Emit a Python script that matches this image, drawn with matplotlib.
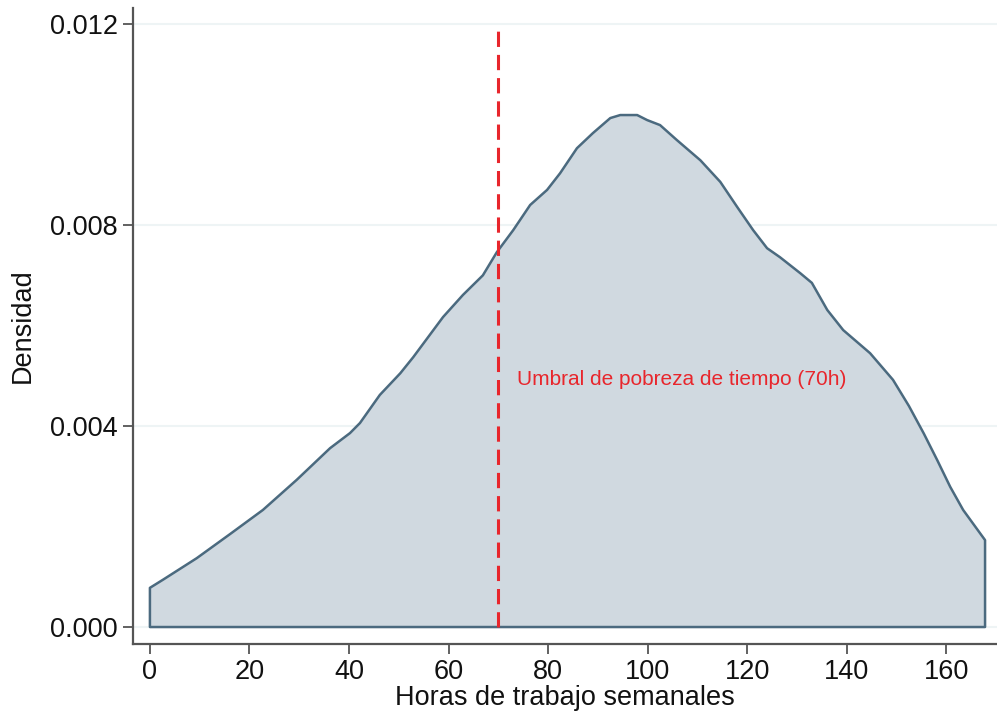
import numpy as np
import matplotlib
matplotlib.use("Agg")
import matplotlib.pyplot as plt

plt.rcParams['font.family'] = ['Liberation Sans', 'DejaVu Sans']

# density estimate
horas = [0, 2.6, 9.4, 16.1, 22.7, 29.5, 36.2, 40.2, 42.2, 46.2, 50.3, 52.9,
         58.9, 62.9, 66.9, 69.7, 73.0, 76.4, 79.8, 82.4, 85.8, 89.0, 92.5,
         94.5, 97.9, 99.9, 102.5, 105.9, 110.6, 114.6, 118.0, 121.2, 124.0,
         126.6, 130.7, 133.0, 136.1, 139.3, 144.7, 149.3, 152.5, 155.5,
         158.2, 160.8, 163.4, 167.8]
densidad = [0.00078, 0.00094, 0.00137, 0.00185, 0.00233, 0.00293, 0.00356,
            0.00386, 0.00406, 0.00462, 0.00505, 0.00537, 0.00617, 0.00661,
            0.00700, 0.00746, 0.00790, 0.00840, 0.00870, 0.00903, 0.00953,
            0.00983, 0.01013, 0.01019, 0.01019, 0.01009, 0.00999, 0.00969,
            0.00929, 0.00886, 0.00836, 0.00790, 0.00754, 0.00736, 0.00704,
            0.00685, 0.00631, 0.00591, 0.00545, 0.00492, 0.00440, 0.00385,
            0.00332, 0.00279, 0.00233, 0.00173]

umbral = 70
etiqueta = "Umbral de pobreza de tiempo (70h)"
xticks = [0, 20, 40, 60, 80, 100, 120, 140, 160]
yticks = [0.000, 0.004, 0.008, 0.012]

fig = plt.figure(figsize=(9.97, 7.17), dpi=100)
ax = fig.add_axes([0.1334, 0.1018, 0.8666, 0.887])

# closed outline: vertical edges down to zero at both ends
xs = [horas[0]] + horas + [horas[-1]]
ys = [0] + densidad + [0]
ax.fill(xs, ys, facecolor='#d0d9e0', edgecolor='#4b6a7f', linewidth=1.8,
        joinstyle='round', zorder=2)

ax.plot([umbral, umbral], [0, 0.012], color='#e8262c', linewidth=2.2,
        dashes=(5, 2.6), zorder=3)
ax.text(73.8, 0.00492, etiqueta, color='#e8262c', fontsize=15,
        va='center', ha='left', zorder=4)

for t in yticks:
    ax.axhline(t, color='#eef4f5', linewidth=1.5, zorder=1)

ax.set_xlim(-3.4, 170.2)
ax.set_ylim(-0.000338, 0.01232)
ax.set_xticks(xticks)
ax.set_yticks(yticks)
ax.set_yticklabels(["{:.3f}".format(t) for t in yticks])

for s in ['top', 'right']:
    ax.spines[s].set_visible(False)
for s in ['left', 'bottom']:
    ax.spines[s].set_color('#555555')
    ax.spines[s].set_linewidth(1.6)

ax.tick_params(axis='both', labelsize=19.5, length=7, width=1.3,
               color='#555555', labelcolor='#111111', pad=4)

ax.set_xlabel('Horas de trabajo semanales', fontsize=19.5, color='#111111', labelpad=0)
ax.set_ylabel('Densidad', fontsize=19.5, color='#111111', labelpad=10)

fig.savefig('out.png', dpi=100)
